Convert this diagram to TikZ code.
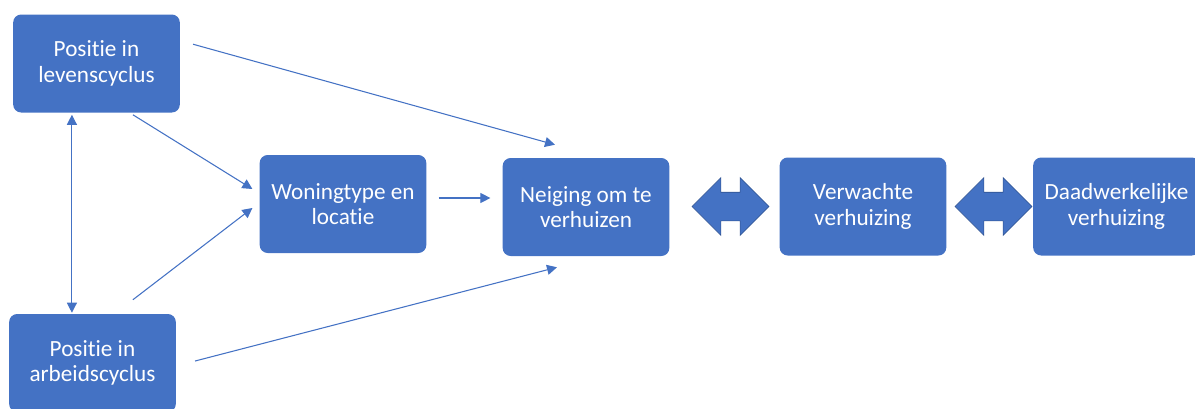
\documentclass[tikz,border=0pt]{standalone}
\usepackage{fontspec}
\setmainfont{Carlito}[RawFeature={-liga;-clig;-calt;-dlig}]
\usepackage{xcolor}
\usepackage{tikz}
\usetikzlibrary{arrows.meta,shapes.arrows}
\definecolor{boxblue}{HTML}{4472C4}
\definecolor{edgeblue}{HTML}{2F528F}

\begin{document}
\begin{tikzpicture}[x=0.75pt, y=-0.75pt,
    >={Triangle[length=7.5pt,width=7.5pt]},
    box/.style={fill=boxblue, rounded corners=6pt, minimum width=125pt, minimum height=73.5pt,
        inner sep=0pt, align=center, text=white, font=\fontsize{17.4}{19}\selectfont},
    link/.style={draw=boxblue, line width=0.8pt},
    bothway/.style={double arrow, fill=boxblue, draw=edgeblue, line width=0.5pt,
        inner xsep=0pt, inner ysep=10.5pt, minimum height=57.75pt,
        double arrow head extend=10.9pt, double arrow tip angle=90}]
    \useasboundingbox (0,0) rectangle (1195,408);

    % Cycles
    \node[box] (levens) at (96.5,63.5) {Positie in\\levenscyclus};
    \node[box] (arbeid) at (92.5,363) {Positie in\\arbeidscyclus};

    % Woning
    \node[box] (woning) at (343,204) {Woningtype en\\locatie};

    % Verhuizen
    \node[box] (neiging) at (586,207) {Neiging om te\\verhuizen};
    \node[box] (verwacht) at (863,206.5) {Verwachte\\verhuizing};
    \node[box] (daad) at (1116.5,206.5) {Daadwerkelijke\\verhuizing};

    % Block arrows
    \node[bothway] (pijl1) at (730.5,206.5) {};
    \node[bothway] (pijl2) at (993.5,206.5) {};

    % Arrows
    \draw[link, <->] ([shift={(59,2)}]levens.south west) -- ([shift={(63,-1)}]arbeid.north west);
    \draw[link, ->] ([shift={(120,2)}]levens.south west) -- ([shift={(-7,-15)}]woning.west);
    \draw[link, ->] ([shift={(124,-14)}]arbeid.north west) -- ([shift={(-7,4)}]woning.west);
    \draw[link, ->] ([shift={(13,30)}]levens.north east) -- ([shift={(-31,-13)}]neiging.north);
    \draw[link, ->] ([shift={(19,-2)}]arbeid.east) -- ([shift={(-29,11)}]neiging.south);
    \draw[link, ->] ([shift={(12,-6)}]woning.east) -- ([shift={(-12,-9)}]neiging.west);
\end{tikzpicture}
\end{document}
